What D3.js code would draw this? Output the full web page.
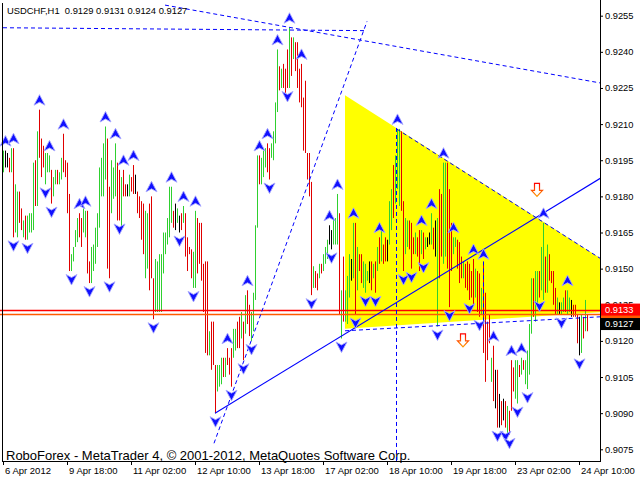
<!DOCTYPE html>
<html><head><meta charset="utf-8">
<script src="https://cdn.jsdelivr.net/npm/d3@7"></script>
<style>body{margin:0;background:#fff;overflow:hidden}</style>
</head><body>
<svg id="c" width="640" height="480"></svg>
<script>
// ---------------- DATA ----------------
const chartTitle = "USDCHF,H1  0.9129 0.9131 0.9124 0.9127";
const copyright = "RoboForex - MetaTrader 4, \u00A9 2001-2012, MetaQuotes Software Corp.";
const priceTicks = [0.9075,0.9090,0.9105,0.9120,0.9135,0.9150,0.9165,0.9180,0.9195,0.9210,0.9225,0.9240,0.9255];
const timeTickIdx = [0,32,64,96,128,160,192,224,256,288];
const timeLabels = ["6 Apr 2012","9 Apr 18:00","11 Apr 02:00","12 Apr 10:00","13 Apr 18:00","17 Apr 02:00","18 Apr 10:00","19 Apr 18:00","23 Apr 02:00","24 Apr 10:00"];

const highs = [
0.9199,0.9199,0.9198,0.9196,0.9200,0.9200,0.9185,0.9182,0.9182,0.9175,
0.9170,0.9172,0.9172,0.9173,0.9173,0.9194,0.9195,0.9207,0.9216,0.9204,
0.9201,0.9198,0.9198,0.9197,0.9191,0.9188,0.9191,0.9191,0.9190,0.9196,
0.9206,0.9195,0.9194,0.9181,0.9156,0.9159,0.9166,0.9171,0.9173,0.9171,
0.9175,0.9174,0.9174,0.9153,0.9159,0.9160,0.9167,0.9173,0.9192,0.9196,
0.9202,0.9209,0.9204,0.9184,0.9195,0.9192,0.9202,0.9194,0.9191,0.9188,
0.9191,0.9185,0.9185,0.9189,0.9188,0.9193,0.9189,0.9182,0.9180,0.9178,
0.9177,0.9174,0.9173,0.9177,0.9180,0.9146,0.9154,0.9153,0.9156,0.9156,
0.9165,0.9165,0.9171,0.9184,0.9184,0.9174,0.9177,0.9175,0.9172,0.9173,
0.9176,0.9173,0.9163,0.9159,0.9158,0.9157,0.9174,0.9171,0.9169,0.9169,
0.9152,0.9153,0.9153,0.9124,0.9128,0.9128,0.9110,0.9110,0.9110,0.9113,
0.9113,0.9113,0.9117,0.9113,0.9117,0.9125,0.9125,0.9128,0.9130,0.9132,
0.9128,0.9139,0.9141,0.9135,0.9132,0.9140,0.9168,0.9197,0.9197,0.9196,
0.9199,0.9200,0.9202,0.9200,0.9202,0.9207,0.9219,0.9241,0.9234,0.9233,
0.9235,0.9233,0.9241,0.9250,0.9246,0.9246,0.9244,0.9244,0.9233,0.9235,
0.9221,0.9228,0.9198,0.9198,0.9186,0.9151,0.9149,0.9148,0.9152,0.9152,
0.9156,0.9159,0.9162,0.9168,0.9166,0.9171,0.9171,0.9181,0.9173,0.9141,
0.9155,0.9141,0.9147,0.9156,0.9154,0.9169,0.9169,0.9159,0.9156,0.9156,
0.9153,0.9152,0.9149,0.9153,0.9153,0.9152,0.9153,0.9159,0.9163,0.9166,
0.9160,0.9163,0.9162,0.9178,0.9183,0.9193,0.9197,0.9208,0.9208,0.9207,
0.9178,0.9171,0.9170,0.9170,0.9169,0.9163,0.9165,0.9163,0.9166,0.9166,
0.9165,0.9163,0.9163,0.9165,0.9173,0.9167,0.9170,0.9171,0.9183,0.9181,
0.9194,0.9194,0.9194,0.9183,0.9169,0.9163,0.9163,0.9162,0.9161,0.9155,
0.9153,0.9152,0.9153,0.9152,0.9149,0.9154,0.9150,0.9149,0.9148,0.9142,
0.9152,0.9140,0.9128,0.9131,0.9113,0.9118,0.9108,0.9108,0.9098,0.9095,
0.9096,0.9095,0.9093,0.9091,0.9112,0.9109,0.9112,0.9112,0.9110,0.9113,
0.9112,0.9112,0.9116,0.9127,0.9146,0.9146,0.9149,0.9149,0.9149,0.9159,
0.9169,0.9155,0.9160,0.9156,0.9149,0.9149,0.9142,0.9138,0.9136,0.9136,
0.9138,0.9141,0.9141,0.9138,0.9137,0.9135,0.9135,0.9131,0.9130,0.9131,
0.9130,0.9137,0.9131];

const lows = [
0.9190,0.9192,0.9192,0.9190,0.9190,0.9163,0.9165,0.9163,0.9169,0.9166,
0.9163,0.9162,0.9162,0.9165,0.9165,0.9166,0.9176,0.9176,0.9196,0.9188,
0.9192,0.9185,0.9190,0.9190,0.9177,0.9180,0.9185,0.9185,0.9185,0.9187,
0.9190,0.9188,0.9173,0.9149,0.9149,0.9153,0.9159,0.9161,0.9163,0.9159,
0.9165,0.9163,0.9148,0.9144,0.9144,0.9149,0.9152,0.9159,0.9167,0.9180,
0.9180,0.9187,0.9150,0.9146,0.9173,0.9179,0.9180,0.9170,0.9170,0.9166,
0.9180,0.9180,0.9180,0.9180,0.9182,0.9181,0.9181,0.9173,0.9171,0.9162,
0.9156,0.9146,0.9150,0.9141,0.9146,0.9129,0.9132,0.9132,0.9132,0.9132,
0.9148,0.9156,0.9160,0.9163,0.9169,0.9167,0.9166,0.9169,0.9165,0.9166,
0.9169,0.9155,0.9149,0.9156,0.9146,0.9142,0.9142,0.9148,0.9152,0.9145,
0.9132,0.9115,0.9114,0.9114,0.9108,0.9110,0.9090,0.9099,0.9101,0.9102,
0.9105,0.9105,0.9110,0.9106,0.9101,0.9113,0.9116,0.9117,0.9117,0.9121,
0.9112,0.9123,0.9127,0.9122,0.9120,0.9124,0.9137,0.9167,0.9185,0.9185,
0.9188,0.9192,0.9190,0.9187,0.9196,0.9195,0.9202,0.9215,0.9224,0.9225,
0.9225,0.9223,0.9225,0.9225,0.9230,0.9237,0.9232,0.9225,0.9219,0.9217,
0.9199,0.9198,0.9187,0.9180,0.9139,0.9142,0.9142,0.9141,0.9146,0.9148,
0.9149,0.9152,0.9154,0.9160,0.9158,0.9160,0.9160,0.9160,0.9131,0.9121,
0.9128,0.9128,0.9127,0.9138,0.9145,0.9146,0.9131,0.9141,0.9149,0.9144,
0.9142,0.9140,0.9145,0.9144,0.9141,0.9146,0.9140,0.9149,0.9152,0.9153,
0.9152,0.9153,0.9153,0.9160,0.9166,0.9171,0.9177,0.9183,0.9176,0.9174,
0.9149,0.9156,0.9159,0.9158,0.9150,0.9156,0.9156,0.9155,0.9149,0.9156,
0.9154,0.9158,0.9159,0.9160,0.9160,0.9158,0.9155,0.9126,0.9146,0.9155,
0.9152,0.9155,0.9150,0.9134,0.9149,0.9156,0.9159,0.9150,0.9144,0.9146,
0.9146,0.9142,0.9141,0.9137,0.9138,0.9135,0.9138,0.9132,0.9130,0.9131,
0.9115,0.9103,0.9112,0.9119,0.9103,0.9095,0.9092,0.9084,0.9084,0.9085,
0.9087,0.9084,0.9081,0.9081,0.9091,0.9099,0.9096,0.9094,0.9105,0.9106,
0.9108,0.9102,0.9100,0.9106,0.9123,0.9130,0.9128,0.9135,0.9138,0.9141,
0.9137,0.9140,0.9140,0.9145,0.9144,0.9135,0.9131,0.9131,0.9131,0.9131,
0.9132,0.9132,0.9131,0.9132,0.9130,0.9130,0.9130,0.9119,0.9114,0.9115,
0.9121,0.9124,0.9124];

// g = up bar, r = down bar, k = unchanged
const barDirs = (
"gkkrgrggrr"+"grggggrgrr"+"rgggrggrgg"+"rrrrggggrr"+"ggrrgggggg"+
"ggrrgggrrg"+"rrkgrrkrrr"+"rggrrrgggg"+"gggggrkgkr"+"grrrrggrrr"+
"rrrgrrrggg"+"rgrrrggrrg"+"rgrrggggrg"+"ggrrggggrg"+"rrrgrgrrrr"+
"rrrrrgrrgr"+"gggkkgggrg"+"rgggkgrgrr"+"gggkrgrgrg"+"rrkggrgggr"+
"rggrrrgrrg"+"rgkkgrkgrr"+"ggrrrggrrr"+"grrrrrgrrg"+"rrrrgrkrkr"+
"krgrrrggrg"+"rggggrggrg"+"grgrrrrgkg"+"grggkrrrkg"+"rgr").split("");

const fractalUpIdx = [1,5,18,23,30,38,41,51,56,60,65,74,84,90,96,112,122,128,132,137,143,149,163,167,175,188,197,209,214,220,225,235,240,245,254,259,270,282];
const fractalDownIdx = [5,12,21,24,34,43,53,58,75,88,95,106,114,120,124,133,142,154,164,169,176,181,186,200,204,210,217,223,233,238,247,251,253,257,262,268,279,288];

// analysis objects: [bar index, price]
const triangle = [[171,0.9222],[171,0.9125],[337,0.9134]];
const triangleTopEdge = [[197,0.92079],[337,0.9134]];
const lowerChannel = [[171,0.91242],[298.5,0.9130]];
const supportLine = [[106,0.9090],[270,0.9173]];
const steepLine = [[105.5,0.90775],[180.5,0.92492]];
const flatTopLine = [[0,0.9250],[181,0.92488]];
const fallingTopLine = [[81,0.92594],[298.5,0.92271]];
const verticalMarks = [[196.5,0.92084,0.9070],[240,0.9153,0.9128]];
const sellArrows = [[267,0.91825],[230,0.9120]];
const hLines = [{price:0.9133,color:"#ff0000"},{price:0.9131,color:"#ff5a00"}];
const bidPrice = 0.9127;

// ---------------- CHART ----------------
const svg = d3.select("#c");
const plotR = 600, plotB = 461;
const font = "'Liberation Sans', Arial, sans-serif";
const x = d3.scaleLinear().domain([0,300]).range([3,603]);
const y = d3.scaleLinear().domain([0.9075,0.9255]).range([449.3,15.7]);

svg.append("rect").attr("width",640).attr("height",480).attr("fill","#fff");
const defs = svg.append("defs");
defs.append("clipPath").attr("id","plot")
  .append("rect").attr("x",0).attr("y",0).attr("width",plotR).attr("height",plotB);
const grad = defs.append("linearGradient").attr("id","og").attr("x1",0).attr("y1",0).attr("x2",0).attr("y2",1);
grad.append("stop").attr("offset","0%").attr("stop-color","#ff0000");
grad.append("stop").attr("offset","100%").attr("stop-color","#ff9a00");

// copyright text (behind chart objects)
svg.append("text").attr("x",6).attr("y",459.5).attr("font-family",font).attr("font-size","13px")
  .attr("fill","#000").text(copyright);

const g = svg.append("g").attr("clip-path","url(#plot)");

// yellow triangle
g.append("path")
  .attr("d", d3.line().x(d=>x(d[0])).y(d=>y(d[1]))(triangle)+"Z")
  .attr("fill","#ffff00").attr("stroke","none");

// bars
const colorOf = {g:"#2fd02f", r:"#e00000", k:"#000000"};
g.append("g").selectAll("line").data(highs).join("line")
  .attr("x1",(d,i)=>Math.round(x(i))+0.5).attr("x2",(d,i)=>Math.round(x(i))+0.5)
  .attr("y1",d=>y(d)).attr("y2",(d,i)=>Math.max(y(lows[i]), y(d)+1))
  .attr("stroke",(d,i)=>colorOf[barDirs[i]]).attr("stroke-width",1);

// horizontal price lines
g.selectAll(".hl").data(hLines).join("line").attr("class","hl")
  .attr("x1",0).attr("x2",plotR)
  .attr("y1",d=>Math.round(y(d.price))+0.5).attr("y2",d=>Math.round(y(d.price))+0.5)
  .attr("stroke",d=>d.color).attr("stroke-width",1.4);

// helper: extend a two-point line to a target index
function extend(pts, toIdx){
  const [a,b]=pts; const s=(b[1]-a[1])/(b[0]-a[0]);
  return [a,[toIdx, a[1]+s*(toIdx-a[0])]];
}
const lineGen = d3.line().x(d=>x(d[0])).y(d=>y(d[1]));
const dashed = [triangleTopEdge, extend(lowerChannel,300), extend(steepLine,182), flatTopLine, extend(fallingTopLine,300)];
g.selectAll(".dl").data(dashed).join("path").attr("class","dl")
  .attr("d",lineGen).attr("fill","none").attr("stroke","#0000ff")
  .attr("stroke-width",1).attr("stroke-dasharray","4,3");
g.selectAll(".vl").data(verticalMarks).join("line").attr("class","vl")
  .attr("x1",d=>Math.round(x(d[0]))+0.5).attr("x2",d=>Math.round(x(d[0]))+0.5)
  .attr("y1",d=>y(d[1])).attr("y2",d=>y(d[2]))
  .attr("stroke","#0000ff").attr("stroke-dasharray","4,3");
g.append("path").attr("d",lineGen(extend(supportLine,300)))
  .attr("fill","none").attr("stroke","#0000ff").attr("stroke-width",1.1);

// fractals
const upShape = "M0,-6L5.5,4.5L0,1.5L-5.5,4.5Z";
const dnShape = "M0,6L5.5,-4.5L0,-1.5L-5.5,-4.5Z";
g.selectAll(".fu").data(fractalUpIdx).join("path").attr("class","fu")
  .attr("d",upShape).attr("transform",i=>`translate(${x(i)+0.5},${y(highs[i])-9})`)
  .attr("fill","#1010ff").attr("stroke","#a8a8ff").attr("stroke-width",0.9);
g.selectAll(".fd").data(fractalDownIdx).join("path").attr("class","fd")
  .attr("d",dnShape).attr("transform",i=>`translate(${x(i)+0.5},${y(lows[i])+8})`)
  .attr("fill","#1010ff").attr("stroke","#a8a8ff").attr("stroke-width",0.9);

// sell arrows
g.selectAll(".sa").data(sellArrows).join("path").attr("class","sa")
  .attr("d","M-2.5,-7L2.5,-7L2.5,0L5.5,0L0,6L-5.5,0L-2.5,0Z")
  .attr("transform",d=>`translate(${x(d[0])},${y(d[1])})`)
  .attr("fill","#fff").attr("stroke","url(#og)").attr("stroke-width",1.2);

// frame lines
svg.append("line").attr("x1",2.5).attr("x2",2.5).attr("y1",3).attr("y2",plotB+0.5).attr("stroke","#000");
svg.append("line").attr("x1",plotR+0.5).attr("x2",plotR+0.5).attr("y1",0).attr("y2",plotB+0.5).attr("stroke","#000");
svg.append("line").attr("x1",2).attr("x2",plotR+1).attr("y1",plotB+0.5).attr("y2",plotB+0.5).attr("stroke","#000");

// right axis
const ya = svg.append("g").attr("transform",`translate(${plotR},0)`)
  .call(d3.axisRight(y).tickValues(priceTicks).tickFormat(d3.format(".4f")).tickSize(3).tickPadding(2).tickSizeOuter(0));
ya.select(".domain").remove();
ya.selectAll("text").attr("font-family",font).attr("font-size","9.3px").attr("fill","#000");
ya.selectAll("line").attr("stroke","#000");

// bottom axis
const xa = svg.append("g").attr("transform",`translate(0,${plotB})`)
  .call(d3.axisBottom(x).tickValues(timeTickIdx).tickFormat((d,i)=>timeLabels[i]).tickSize(4).tickSizeOuter(0));
xa.select(".domain").remove();
xa.selectAll("text").attr("font-family",font).attr("font-size","9.5px").attr("fill","#000")
  .attr("text-anchor","start").attr("x",1.5).attr("dy",null).attr("y",13.3);
xa.selectAll("line").attr("stroke","#000");

// price labels on the right (current-price markers cover the 0.9135 tick label, as in MT4)
function priceBox(p, bg, withText){
  const cy = y(p);
  svg.append("rect").attr("x",plotR+1).attr("y",cy-6).attr("width",640-plotR-1).attr("height",12).attr("fill",bg);
  if(withText) svg.append("text").attr("x",plotR+5).attr("y",cy+3.4).text(d3.format(".4f")(p))
    .attr("font-family",font).attr("font-size","9.3px").attr("fill","#fff");
}
priceBox(hLines[1].price,"#ff5a00",false);
priceBox(hLines[0].price,"#ff0000",true);
priceBox(bidPrice,"#000000",true);

// title
svg.append("text").attr("x",7).attr("y",14).attr("font-family",font).attr("font-size","9.4px")
  .style("white-space","pre").attr("fill","#000").text(chartTitle);
</script>
</body></html>
